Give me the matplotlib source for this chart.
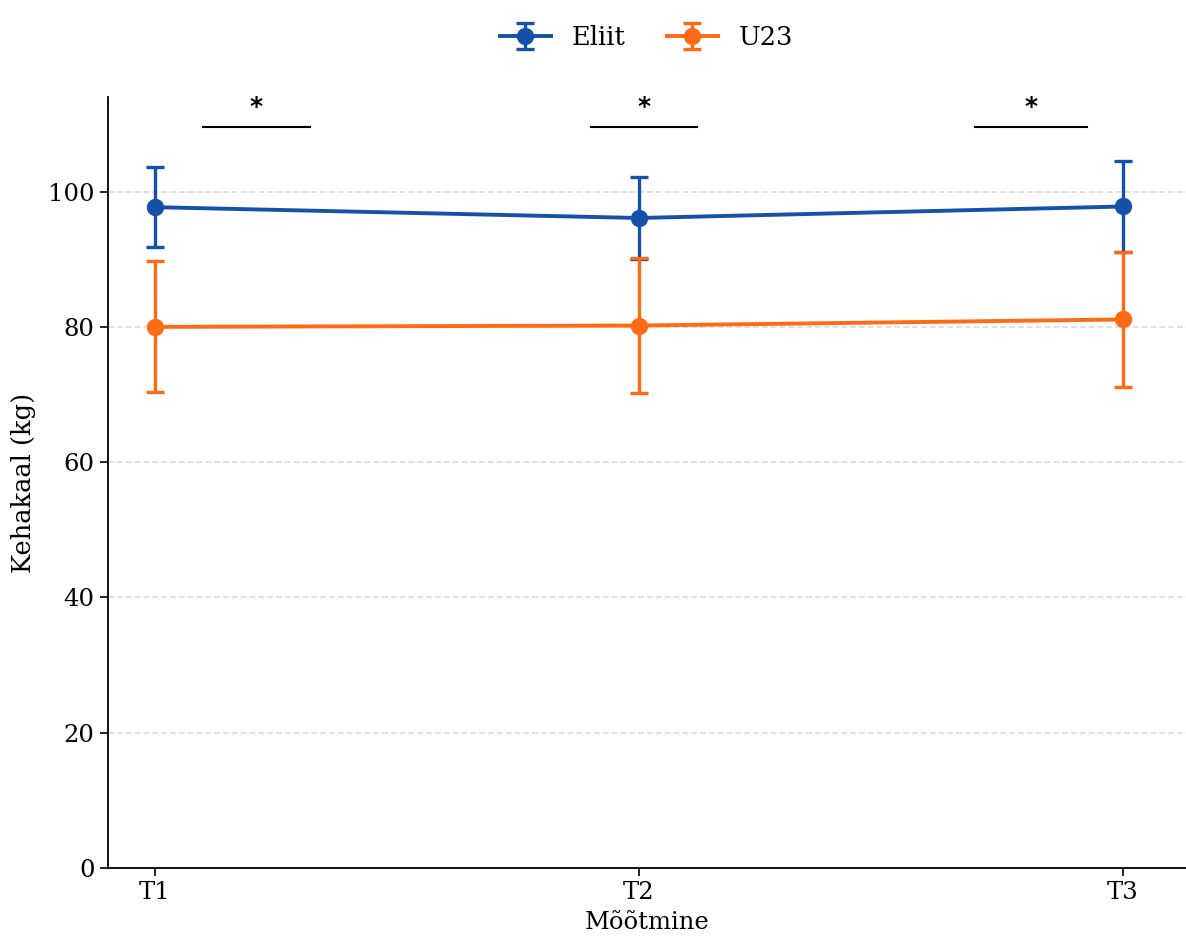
import matplotlib
matplotlib.use("Agg")
import matplotlib.pyplot as plt
import numpy as np

timepoints = ["T1", "T2", "T3"]
eliit_mean = [97.7, 96.1, 97.8]
eliit_sd = [5.9, 6.0, 6.7]
u23_mean = [80.0, 80.2, 81.1]
u23_sd = [9.7, 10.0, 10.0]
sig_labels = ["*", "*", "*"]
sig_spans = [(0.10, 0.32), (0.90, 1.12), (1.695, 1.925)]

blue = "#1550aa"
orange = "#ff6a14"

plt.rcParams['font.family'] = ['DejaVu Serif']
fig = plt.figure(figsize=(11.86, 9.41), dpi=100)
ax = fig.add_axes([0.091, 0.0776, 0.909, 0.8194])

x = np.arange(len(timepoints))
ax.errorbar(x, eliit_mean, yerr=eliit_sd, color=blue, marker='o', markersize=11.5,
            linewidth=2.8, elinewidth=2.4, capsize=6.5, capthick=2.4, label='Eliit', zorder=3)
ax.errorbar(x, u23_mean, yerr=u23_sd, color=orange, marker='o', markersize=11.5,
            linewidth=2.8, elinewidth=2.4, capsize=6.5, capthick=2.4, label='U23', zorder=3)

for (a, b), s in zip(sig_spans, sig_labels):
    ax.plot([a, b], [109.5, 109.5], color='black', linewidth=1.5)
    ax.text((a + b) / 2, 110.8, s, ha='center', va='bottom', fontsize=18,
            fontweight='bold', family='DejaVu Sans')

ax.set_xlim(-0.097, 2.13)
ax.set_ylim(0, 114)
ax.set_xticks(x)
ax.set_xticklabels(timepoints)
ax.set_yticks([0, 20, 40, 60, 80, 100])
ax.tick_params(labelsize=17.5, length=6, width=1.2)
ax.yaxis.grid(True, linestyle='--', color='#dddddd', linewidth=1.2)
ax.set_axisbelow(True)
for sp in ['top', 'right']:
    ax.spines[sp].set_visible(False)
for sp in ['left', 'bottom']:
    ax.spines[sp].set_linewidth(1.3)

ax.set_xlabel("Mõõtmine", fontsize=17.5, labelpad=5)
ax.set_ylabel("Kehakaal (kg)", fontsize=18.5, labelpad=9)

fig.legend(loc='upper center', bbox_to_anchor=(0.545, 0.998), ncol=2, frameon=False,
           fontsize=18.5, handlelength=2.0, columnspacing=1.6)

fig.savefig("out.png", dpi=100, facecolor='white')
